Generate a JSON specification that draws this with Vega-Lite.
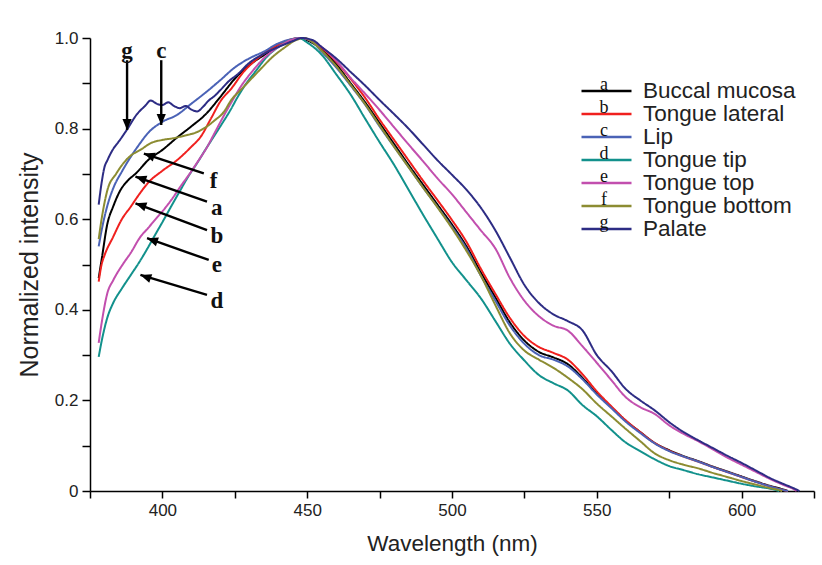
{
  "$schema": "https://vega.github.io/schema/vega-lite/v6.json",
  "width": 724,
  "height": 453,
  "autosize": {"type": "none"},
  "padding": {"left": 90, "top": 38, "right": 8, "bottom": 74},
  "background": "white",
  "config": {
    "view": {"stroke": null},
    "axis": {
      "grid": false,
      "domainColor": "black",
      "domainWidth": 1.5,
      "tickColor": "black",
      "tickWidth": 1.5,
      "labelFont": "Liberation Sans",
      "labelColor": "#222",
      "labelFontSize": 17,
      "titleFont": "Liberation Sans",
      "titleFontWeight": "normal",
      "titleColor": "#222"
    },
    "axisX": {"tickSize": 7, "labelPadding": 4, "titlePadding": 14, "titleFontSize": 22.5},
    "axisY": {"tickSize": 8, "labelPadding": 4, "titlePadding": 12, "titleFontSize": 25}
  },
  "datasets": {
    "names": [
      {"s": "a", "name": "Buccal mucosa"},
      {"s": "b", "name": "Tongue lateral"},
      {"s": "c", "name": "Lip"},
      {"s": "d", "name": "Tongue tip"},
      {"s": "e", "name": "Tongue top"},
      {"s": "f", "name": "Tongue bottom"},
      {"s": "g", "name": "Palate"}
    ],
    "spectra": [
      {"s":"a","w":378,"v":0.47},{"s":"a","w":379,"v":0.51},{"s":"a","w":381,"v":0.59},{"s":"a","w":383,"v":0.628},{"s":"a","w":385.5,"v":0.664},{"s":"a","w":388,"v":0.685},{"s":"a","w":391,"v":0.702},{"s":"a","w":395,"v":0.73},{"s":"a","w":400,"v":0.753},{"s":"a","w":405,"v":0.78},{"s":"a","w":410,"v":0.805},{"s":"a","w":415,"v":0.832},{"s":"a","w":420,"v":0.87},{"s":"a","w":425,"v":0.91},{"s":"a","w":430,"v":0.94},{"s":"a","w":435,"v":0.962},{"s":"a","w":440,"v":0.982},{"s":"a","w":445,"v":0.995},{"s":"a","w":448,"v":1.0},{"s":"a","w":450,"v":0.995},{"s":"a","w":455,"v":0.975},{"s":"a","w":460,"v":0.942},{"s":"a","w":465,"v":0.9},{"s":"a","w":470,"v":0.858},{"s":"a","w":475,"v":0.812},{"s":"a","w":480,"v":0.766},{"s":"a","w":485,"v":0.72},{"s":"a","w":490,"v":0.676},{"s":"a","w":495,"v":0.632},{"s":"a","w":500,"v":0.588},{"s":"a","w":505,"v":0.54},{"s":"a","w":510,"v":0.482},{"s":"a","w":515,"v":0.427},{"s":"a","w":520,"v":0.372},{"s":"a","w":525,"v":0.332},{"s":"a","w":530,"v":0.307},{"s":"a","w":535,"v":0.295},{"s":"a","w":540,"v":0.28},{"s":"a","w":545,"v":0.25},{"s":"a","w":550,"v":0.215},{"s":"a","w":555,"v":0.185},{"s":"a","w":560,"v":0.155},{"s":"a","w":565,"v":0.13},{"s":"a","w":570,"v":0.106},{"s":"a","w":575,"v":0.09},{"s":"a","w":580,"v":0.077},{"s":"a","w":585,"v":0.066},{"s":"a","w":590,"v":0.054},{"s":"a","w":595,"v":0.043},{"s":"a","w":600,"v":0.032},{"s":"a","w":605,"v":0.021},{"s":"a","w":610,"v":0.011},{"s":"a","w":614,"v":0.004},{"s":"a","w":616,"v":0.0},
      {"s":"b","w":378,"v":0.462},{"s":"b","w":379,"v":0.5},{"s":"b","w":380,"v":0.52},{"s":"b","w":383,"v":0.561},{"s":"b","w":386,"v":0.6},{"s":"b","w":389,"v":0.627},{"s":"b","w":392,"v":0.655},{"s":"b","w":395,"v":0.68},{"s":"b","w":400,"v":0.707},{"s":"b","w":405,"v":0.73},{"s":"b","w":410,"v":0.76},{"s":"b","w":413,"v":0.78},{"s":"b","w":417,"v":0.825},{"s":"b","w":420,"v":0.86},{"s":"b","w":424,"v":0.89},{"s":"b","w":428,"v":0.925},{"s":"b","w":432,"v":0.95},{"s":"b","w":436,"v":0.97},{"s":"b","w":440,"v":0.985},{"s":"b","w":445,"v":0.998},{"s":"b","w":448,"v":1.0},{"s":"b","w":451,"v":0.995},{"s":"b","w":455,"v":0.978},{"s":"b","w":460,"v":0.948},{"s":"b","w":465,"v":0.91},{"s":"b","w":470,"v":0.868},{"s":"b","w":475,"v":0.82},{"s":"b","w":480,"v":0.775},{"s":"b","w":485,"v":0.73},{"s":"b","w":490,"v":0.685},{"s":"b","w":495,"v":0.642},{"s":"b","w":500,"v":0.598},{"s":"b","w":505,"v":0.55},{"s":"b","w":510,"v":0.49},{"s":"b","w":515,"v":0.435},{"s":"b","w":520,"v":0.382},{"s":"b","w":525,"v":0.342},{"s":"b","w":530,"v":0.318},{"s":"b","w":535,"v":0.305},{"s":"b","w":540,"v":0.29},{"s":"b","w":545,"v":0.258},{"s":"b","w":550,"v":0.22},{"s":"b","w":555,"v":0.187},{"s":"b","w":560,"v":0.156},{"s":"b","w":565,"v":0.13},{"s":"b","w":570,"v":0.106},{"s":"b","w":575,"v":0.089},{"s":"b","w":580,"v":0.076},{"s":"b","w":585,"v":0.065},{"s":"b","w":590,"v":0.053},{"s":"b","w":595,"v":0.042},{"s":"b","w":600,"v":0.031},{"s":"b","w":605,"v":0.02},{"s":"b","w":610,"v":0.01},{"s":"b","w":614,"v":0.003},{"s":"b","w":616,"v":0.0},
      {"s":"c","w":378,"v":0.54},{"s":"c","w":379,"v":0.575},{"s":"c","w":381,"v":0.63},{"s":"c","w":383,"v":0.668},{"s":"c","w":386,"v":0.705},{"s":"c","w":389,"v":0.737},{"s":"c","w":392,"v":0.765},{"s":"c","w":395,"v":0.79},{"s":"c","w":400,"v":0.815},{"s":"c","w":405,"v":0.83},{"s":"c","w":410,"v":0.855},{"s":"c","w":415,"v":0.88},{"s":"c","w":420,"v":0.907},{"s":"c","w":425,"v":0.935},{"s":"c","w":430,"v":0.955},{"s":"c","w":435,"v":0.97},{"s":"c","w":440,"v":0.988},{"s":"c","w":445,"v":0.998},{"s":"c","w":448,"v":1.0},{"s":"c","w":452,"v":0.99},{"s":"c","w":455,"v":0.97},{"s":"c","w":460,"v":0.935},{"s":"c","w":465,"v":0.895},{"s":"c","w":470,"v":0.853},{"s":"c","w":475,"v":0.805},{"s":"c","w":480,"v":0.76},{"s":"c","w":485,"v":0.715},{"s":"c","w":490,"v":0.67},{"s":"c","w":495,"v":0.627},{"s":"c","w":500,"v":0.583},{"s":"c","w":505,"v":0.535},{"s":"c","w":510,"v":0.475},{"s":"c","w":515,"v":0.42},{"s":"c","w":520,"v":0.365},{"s":"c","w":525,"v":0.325},{"s":"c","w":530,"v":0.3},{"s":"c","w":535,"v":0.29},{"s":"c","w":540,"v":0.275},{"s":"c","w":545,"v":0.247},{"s":"c","w":550,"v":0.213},{"s":"c","w":555,"v":0.183},{"s":"c","w":560,"v":0.153},{"s":"c","w":565,"v":0.128},{"s":"c","w":570,"v":0.105},{"s":"c","w":575,"v":0.088},{"s":"c","w":580,"v":0.076},{"s":"c","w":585,"v":0.065},{"s":"c","w":590,"v":0.053},{"s":"c","w":595,"v":0.042},{"s":"c","w":600,"v":0.031},{"s":"c","w":605,"v":0.02},{"s":"c","w":610,"v":0.01},{"s":"c","w":614,"v":0.003},{"s":"c","w":616,"v":0.0},
      {"s":"d","w":378,"v":0.296},{"s":"d","w":379,"v":0.33},{"s":"d","w":381,"v":0.383},{"s":"d","w":383,"v":0.415},{"s":"d","w":386,"v":0.447},{"s":"d","w":389,"v":0.476},{"s":"d","w":392,"v":0.505},{"s":"d","w":394.8,"v":0.535},{"s":"d","w":397,"v":0.56},{"s":"d","w":400.4,"v":0.598},{"s":"d","w":403,"v":0.628},{"s":"d","w":406.2,"v":0.664},{"s":"d","w":409,"v":0.695},{"s":"d","w":412,"v":0.724},{"s":"d","w":415,"v":0.755},{"s":"d","w":417.6,"v":0.781},{"s":"d","w":420.5,"v":0.81},{"s":"d","w":423.5,"v":0.841},{"s":"d","w":426,"v":0.87},{"s":"d","w":429,"v":0.9},{"s":"d","w":432,"v":0.925},{"s":"d","w":436,"v":0.958},{"s":"d","w":440,"v":0.98},{"s":"d","w":444,"v":0.995},{"s":"d","w":447,"v":1.0},{"s":"d","w":450,"v":0.99},{"s":"d","w":455,"v":0.963},{"s":"d","w":460,"v":0.92},{"s":"d","w":465,"v":0.875},{"s":"d","w":470,"v":0.822},{"s":"d","w":475,"v":0.77},{"s":"d","w":480,"v":0.72},{"s":"d","w":485,"v":0.665},{"s":"d","w":490,"v":0.61},{"s":"d","w":495,"v":0.557},{"s":"d","w":500,"v":0.505},{"s":"d","w":505,"v":0.465},{"s":"d","w":510,"v":0.425},{"s":"d","w":515,"v":0.375},{"s":"d","w":520,"v":0.325},{"s":"d","w":525,"v":0.288},{"s":"d","w":530,"v":0.256},{"s":"d","w":535,"v":0.238},{"s":"d","w":540,"v":0.222},{"s":"d","w":545,"v":0.19},{"s":"d","w":550,"v":0.165},{"s":"d","w":555,"v":0.135},{"s":"d","w":560,"v":0.107},{"s":"d","w":565,"v":0.088},{"s":"d","w":570,"v":0.07},{"s":"d","w":575,"v":0.055},{"s":"d","w":580,"v":0.046},{"s":"d","w":585,"v":0.037},{"s":"d","w":590,"v":0.03},{"s":"d","w":595,"v":0.023},{"s":"d","w":600,"v":0.016},{"s":"d","w":605,"v":0.01},{"s":"d","w":610,"v":0.005},{"s":"d","w":613,"v":0.0},
      {"s":"e","w":378,"v":0.327},{"s":"e","w":379,"v":0.37},{"s":"e","w":381,"v":0.437},{"s":"e","w":383,"v":0.465},{"s":"e","w":386.6,"v":0.503},{"s":"e","w":389,"v":0.525},{"s":"e","w":392.4,"v":0.561},{"s":"e","w":395,"v":0.58},{"s":"e","w":398.3,"v":0.605},{"s":"e","w":401,"v":0.625},{"s":"e","w":403.8,"v":0.649},{"s":"e","w":406,"v":0.67},{"s":"e","w":409.6,"v":0.702},{"s":"e","w":412,"v":0.725},{"s":"e","w":415.5,"v":0.76},{"s":"e","w":418,"v":0.79},{"s":"e","w":421,"v":0.826},{"s":"e","w":424,"v":0.86},{"s":"e","w":427,"v":0.892},{"s":"e","w":431.5,"v":0.93},{"s":"e","w":435,"v":0.955},{"s":"e","w":440,"v":0.98},{"s":"e","w":445,"v":0.997},{"s":"e","w":448,"v":1.0},{"s":"e","w":451,"v":0.995},{"s":"e","w":455,"v":0.98},{"s":"e","w":460,"v":0.95},{"s":"e","w":465,"v":0.912},{"s":"e","w":470,"v":0.877},{"s":"e","w":475,"v":0.841},{"s":"e","w":480,"v":0.803},{"s":"e","w":485,"v":0.765},{"s":"e","w":490,"v":0.728},{"s":"e","w":495,"v":0.69},{"s":"e","w":500,"v":0.655},{"s":"e","w":505,"v":0.615},{"s":"e","w":510,"v":0.575},{"s":"e","w":515,"v":0.535},{"s":"e","w":520,"v":0.47},{"s":"e","w":525,"v":0.42},{"s":"e","w":530,"v":0.386},{"s":"e","w":535,"v":0.365},{"s":"e","w":540,"v":0.354},{"s":"e","w":545,"v":0.32},{"s":"e","w":550,"v":0.283},{"s":"e","w":555,"v":0.245},{"s":"e","w":560,"v":0.207},{"s":"e","w":565,"v":0.185},{"s":"e","w":570,"v":0.17},{"s":"e","w":575,"v":0.145},{"s":"e","w":580,"v":0.126},{"s":"e","w":585,"v":0.11},{"s":"e","w":590,"v":0.092},{"s":"e","w":595,"v":0.074},{"s":"e","w":600,"v":0.058},{"s":"e","w":605,"v":0.042},{"s":"e","w":610,"v":0.026},{"s":"e","w":615,"v":0.012},{"s":"e","w":618,"v":0.004},{"s":"e","w":619,"v":0.0},
      {"s":"f","w":378,"v":0.556},{"s":"f","w":379,"v":0.6},{"s":"f","w":381,"v":0.664},{"s":"f","w":384,"v":0.7},{"s":"f","w":386.6,"v":0.724},{"s":"f","w":389,"v":0.74},{"s":"f","w":392.4,"v":0.753},{"s":"f","w":396,"v":0.768},{"s":"f","w":400,"v":0.775},{"s":"f","w":404,"v":0.779},{"s":"f","w":408,"v":0.785},{"s":"f","w":411,"v":0.79},{"s":"f","w":415,"v":0.803},{"s":"f","w":418,"v":0.818},{"s":"f","w":421,"v":0.835},{"s":"f","w":424,"v":0.865},{"s":"f","w":427,"v":0.885},{"s":"f","w":431,"v":0.912},{"s":"f","w":434,"v":0.932},{"s":"f","w":438,"v":0.958},{"s":"f","w":442,"v":0.978},{"s":"f","w":446,"v":0.995},{"s":"f","w":449,"v":1.0},{"s":"f","w":452,"v":0.99},{"s":"f","w":455,"v":0.972},{"s":"f","w":460,"v":0.938},{"s":"f","w":465,"v":0.897},{"s":"f","w":470,"v":0.854},{"s":"f","w":475,"v":0.807},{"s":"f","w":480,"v":0.76},{"s":"f","w":485,"v":0.715},{"s":"f","w":490,"v":0.67},{"s":"f","w":495,"v":0.626},{"s":"f","w":500,"v":0.58},{"s":"f","w":505,"v":0.53},{"s":"f","w":510,"v":0.475},{"s":"f","w":515,"v":0.41},{"s":"f","w":520,"v":0.348},{"s":"f","w":525,"v":0.31},{"s":"f","w":530,"v":0.29},{"s":"f","w":535,"v":0.272},{"s":"f","w":540,"v":0.25},{"s":"f","w":545,"v":0.225},{"s":"f","w":550,"v":0.193},{"s":"f","w":555,"v":0.165},{"s":"f","w":560,"v":0.137},{"s":"f","w":565,"v":0.11},{"s":"f","w":570,"v":0.083},{"s":"f","w":575,"v":0.068},{"s":"f","w":580,"v":0.058},{"s":"f","w":585,"v":0.05},{"s":"f","w":590,"v":0.04},{"s":"f","w":595,"v":0.031},{"s":"f","w":600,"v":0.022},{"s":"f","w":605,"v":0.014},{"s":"f","w":610,"v":0.006},{"s":"f","w":613,"v":0.002},{"s":"f","w":614,"v":0.0},
      {"s":"g","w":378,"v":0.632},{"s":"g","w":379,"v":0.68},{"s":"g","w":380,"v":0.715},{"s":"g","w":381,"v":0.73},{"s":"g","w":383,"v":0.755},{"s":"g","w":385,"v":0.772},{"s":"g","w":388,"v":0.8},{"s":"g","w":391,"v":0.83},{"s":"g","w":394,"v":0.85},{"s":"g","w":396,"v":0.862},{"s":"g","w":398,"v":0.855},{"s":"g","w":400,"v":0.852},{"s":"g","w":402,"v":0.858},{"s":"g","w":404,"v":0.85},{"s":"g","w":406,"v":0.845},{"s":"g","w":408,"v":0.85},{"s":"g","w":410,"v":0.842},{"s":"g","w":412,"v":0.838},{"s":"g","w":414,"v":0.848},{"s":"g","w":416,"v":0.862},{"s":"g","w":418,"v":0.872},{"s":"g","w":420,"v":0.885},{"s":"g","w":423,"v":0.905},{"s":"g","w":426,"v":0.92},{"s":"g","w":430,"v":0.945},{"s":"g","w":435,"v":0.965},{"s":"g","w":440,"v":0.98},{"s":"g","w":445,"v":0.993},{"s":"g","w":448,"v":1.0},{"s":"g","w":452,"v":0.995},{"s":"g","w":455,"v":0.98},{"s":"g","w":460,"v":0.955},{"s":"g","w":465,"v":0.925},{"s":"g","w":470,"v":0.895},{"s":"g","w":475,"v":0.863},{"s":"g","w":480,"v":0.832},{"s":"g","w":485,"v":0.8},{"s":"g","w":490,"v":0.765},{"s":"g","w":495,"v":0.73},{"s":"g","w":500,"v":0.698},{"s":"g","w":505,"v":0.665},{"s":"g","w":510,"v":0.625},{"s":"g","w":515,"v":0.575},{"s":"g","w":520,"v":0.515},{"s":"g","w":525,"v":0.455},{"s":"g","w":530,"v":0.415},{"s":"g","w":535,"v":0.39},{"s":"g","w":540,"v":0.375},{"s":"g","w":545,"v":0.355},{"s":"g","w":550,"v":0.3},{"s":"g","w":555,"v":0.265},{"s":"g","w":560,"v":0.225},{"s":"g","w":565,"v":0.2},{"s":"g","w":570,"v":0.178},{"s":"g","w":575,"v":0.152},{"s":"g","w":580,"v":0.13},{"s":"g","w":585,"v":0.112},{"s":"g","w":590,"v":0.095},{"s":"g","w":595,"v":0.078},{"s":"g","w":600,"v":0.062},{"s":"g","w":605,"v":0.045},{"s":"g","w":610,"v":0.028},{"s":"g","w":615,"v":0.014},{"s":"g","w":618,"v":0.006},{"s":"g","w":620,"v":0.0}
    ],
    "arrows": [
      {"k":"g","dir":"down","w":387.8,"v":0.797,"w2":387.8,"v2":0.951},
      {"k":"c","dir":"down","w":399.6,"v":0.808,"w2":399.6,"v2":0.951},
      {"k":"f","dir":"left","w":393.6,"v":0.745,"w2":414.3,"v2":0.701},
      {"k":"a","dir":"left","w":390.7,"v":0.694,"w2":415.4,"v2":0.639},
      {"k":"b","dir":"left","w":390.7,"v":0.635,"w2":415.4,"v2":0.576},
      {"k":"e","dir":"left","w":394.7,"v":0.558,"w2":416.0,"v2":0.51},
      {"k":"d","dir":"left","w":392.4,"v":0.477,"w2":415.4,"v2":0.433}
    ],
    "labels": [
      {"k":"g","w":387.8,"v":0.955},
      {"k":"c","w":399.6,"v":0.955},
      {"k":"f","w":417.7,"v":0.669},
      {"k":"a","w":418.8,"v":0.609},
      {"k":"b","w":418.8,"v":0.547},
      {"k":"e","w":418.8,"v":0.484},
      {"k":"d","w":418.8,"v":0.403}
    ]
  },
  "layer": [
    {
      "data": {"name": "spectra"},
      "transform": [
        {"lookup": "s", "from": {"data": {"name": "names"}, "key": "s", "fields": ["name"]}}
      ],
      "mark": {"type": "line", "strokeWidth": 2, "interpolate": "monotone"},
      "encoding": {
        "x": {
          "field": "w", "type": "quantitative", "title": "Wavelength (nm)",
          "scale": {"domain": [375, 625], "nice": false, "zero": false},
          "axis": {
            "values": [375, 400, 425, 450, 475, 500, 525, 550, 575, 600, 625],
            "labelExpr": "datum.value % 50 == 0 ? datum.label : ''",
            "labelOverlap": false
          }
        },
        "y": {
          "field": "v", "type": "quantitative", "title": "Normalized intensity",
          "scale": {"domain": [0, 1], "nice": false},
          "axis": {
            "values": [0, 0.1, 0.2, 0.3, 0.4, 0.5, 0.6, 0.7, 0.8, 0.9, 1.0],
            "labelExpr": "datum.value == 0 ? '0' : (round(datum.value * 10) % 2 == 0 ? format(datum.value, '.1f') : '')",
            "labelOverlap": false
          }
        },
        "color": {
          "field": "name", "type": "nominal",
          "scale": {
            "domain": ["Buccal mucosa", "Tongue lateral", "Lip", "Tongue tip", "Tongue top", "Tongue bottom", "Palate"],
            "range": ["#000000", "#f0201e", "#4a62b6", "#12918c", "#c24fae", "#8c8c32", "#2d2c84"]
          },
          "legend": {
            "title": null, "orient": "none", "legendX": 490, "legendY": 41.7,
            "symbolType": "stroke", "symbolSize": 2500, "symbolStrokeWidth": 2.5,
            "labelFont": "Liberation Sans", "labelFontSize": 22.5, "labelColor": "#222",
            "labelBaseline": "middle", "labelOffset": 10, "labelLimit": 300,
            "clipHeight": 22.6, "rowPadding": 0, "padding": 0
          }
        },
        "strokeDash": {
          "field": "s", "type": "nominal",
          "scale": {
            "domain": ["a", "b", "c", "d", "e", "f", "g"],
            "range": [[1, 0], [1, 0], [1, 0], [1, 0], [1, 0], [1, 0], [1, 0]]
          },
          "legend": {
            "title": null, "orient": "none", "legendX": 496, "legendY": 35.7,
            "symbolType": "stroke", "symbolSize": 1, "symbolOpacity": 0, "symbolStrokeWidth": 0,
            "labelFont": "Liberation Serif", "labelFontSize": 18, "labelColor": "#111",
            "labelBaseline": "middle", "labelAlign": "center", "labelOffset": 0,
            "clipHeight": 22.6, "rowPadding": 0, "padding": 0
          }
        }
      }
    },
    {
      "data": {"name": "arrows"},
      "mark": {"type": "rule", "color": "black", "strokeWidth": 2.4},
      "encoding": {
        "x": {"field": "w", "type": "quantitative", "title": "Wavelength (nm)"},
        "y": {"field": "v", "type": "quantitative", "title": "Normalized intensity"},
        "x2": {"field": "w2"},
        "y2": {"field": "v2"}
      }
    },
    {
      "data": {"name": "arrows"},
      "transform": [{"filter": "datum.dir == 'down'"}],
      "mark": {"type": "point", "shape": "M0,0L-0.42,-1L0.42,-1Z", "filled": true, "color": "black", "opacity": 1, "size": 480, "strokeWidth": 0},
      "encoding": {
        "x": {"field": "w", "type": "quantitative", "title": "Wavelength (nm)"},
        "y": {"field": "v", "type": "quantitative", "title": "Normalized intensity"}
      }
    },
    {
      "data": {"name": "arrows"},
      "transform": [{"filter": "datum.dir == 'left'"}],
      "mark": {"type": "point", "shape": "M0,0L1,-0.42L1,0.42Z", "filled": true, "color": "black", "opacity": 1, "size": 480, "strokeWidth": 0, "angle": 19},
      "encoding": {
        "x": {"field": "w", "type": "quantitative", "title": "Wavelength (nm)"},
        "y": {"field": "v", "type": "quantitative", "title": "Normalized intensity"}
      }
    },
    {
      "data": {"name": "labels"},
      "mark": {"type": "text", "font": "Liberation Serif", "fontWeight": "bold", "fontSize": 23, "align": "center", "baseline": "alphabetic", "color": "#111"},
      "encoding": {
        "x": {"field": "w", "type": "quantitative", "title": "Wavelength (nm)"},
        "y": {"field": "v", "type": "quantitative", "title": "Normalized intensity"},
        "text": {"field": "k"}
      }
    }
  ]
}
